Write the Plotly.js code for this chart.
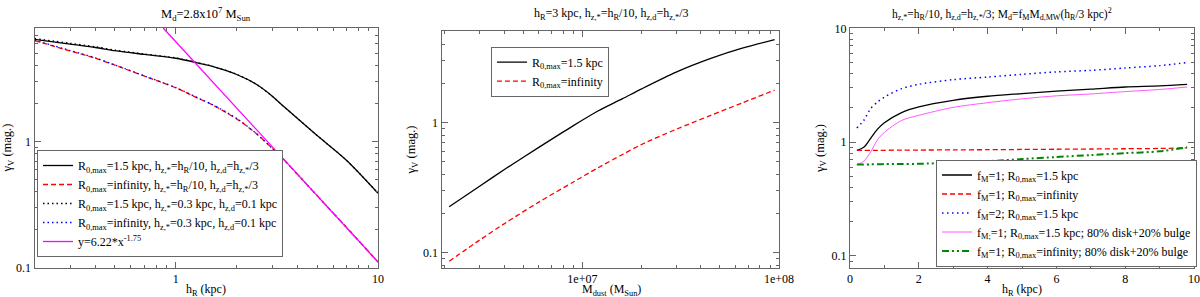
<!DOCTYPE html>
<html>
<head>
<meta charset="utf-8">
<script src="https://cdn.plot.ly/plotly-3.0.1.min.js"></script>
<style>html,body{margin:0;padding:0;background:#fff;}#chart{width:1200px;height:297px;}</style>
</head>
<body>
<div id="chart"></div>
<script>
// ---- Panel 1: gamma_V vs h_R (Md = 2.8e7 MSun) ----
var p1_hR = [0.2, 0.3, 0.4, 0.5, 0.7, 1, 1.3, 1.5, 2, 2.5, 3, 3.3, 4, 5, 7, 10];
var p1_r15_scaled = [6.5, 5.95, 5.6, 5.28, 4.93, 4.6, 4.2, 3.98, 3.42, 2.86, 2.3, 2.0, 1.53, 1.12, 0.71, 0.39];
var p1_rinf_scaled = [6.35, 5.26, 4.6, 4.05, 3.32, 2.68, 2.2, 1.98, 1.52, 1.16, 0.885, 0.765, 0.55, 0.373, 0.208, 0.111];
var p1_r15_fixed = [6.6, 6.05, 5.68, 5.34, 4.97, 4.63, 4.22, 3.99, 3.43, 2.86, 2.3, 2.0, 1.53, 1.12, 0.71, 0.39];
var p1_rinf_fixed = [6.4, 5.3, 4.63, 4.07, 3.33, 2.69, 2.21, 1.99, 1.53, 1.16, 0.885, 0.765, 0.55, 0.373, 0.208, 0.111];
var p1_fit_x = [0.866, 10];
var p1_fit_y = [8.0, 0.111];

// ---- Panel 2: gamma_V vs M_dust (h_R = 3 kpc) ----
var p2_mdust = [2.1e6, 3e6, 4.1e6, 6e6, 9e6, 1.2e7, 1.6e7, 2e7, 3e7, 4.5e7, 6.5e7, 9.5e7];
var p2_r15 = [0.226, 0.325, 0.446, 0.646, 0.95, 1.23, 1.53, 1.82, 2.45, 3.12, 3.74, 4.35];
var p2_rinf = [0.086, 0.125, 0.171, 0.245, 0.35, 0.45, 0.57, 0.68, 0.89, 1.14, 1.42, 1.78];

// ---- Panel 3: gamma_V vs h_R (Md scaled) ----
var p3_hR = [0.2, 0.4, 0.6, 0.8, 1, 1.5, 2, 3, 4, 5, 6, 7, 8, 9, 9.8];
var p3_f1_r15 = [0.845, 0.9, 1.08, 1.3, 1.48, 1.82, 2.04, 2.33, 2.53, 2.67, 2.81, 2.92, 3.05, 3.12, 3.22];
var p3_f1_rinf = [0.845, 0.845, 0.846, 0.847, 0.848, 0.85, 0.852, 0.855, 0.858, 0.862, 0.866, 0.87, 0.875, 0.88, 0.89];
var p3_f2_r15 = [1.33, 1.55, 1.97, 2.25, 2.49, 2.95, 3.22, 3.54, 3.73, 3.94, 4.14, 4.27, 4.48, 4.7, 5.0];
var p3_f1_r15_bulge = [0.63, 0.68, 0.82, 1.05, 1.22, 1.55, 1.72, 2.02, 2.22, 2.4, 2.55, 2.65, 2.78, 2.9, 3.05];
var p3_f1_rinf_bulge = [0.636, 0.637, 0.638, 0.64, 0.641, 0.643, 0.645, 0.66, 0.68, 0.71, 0.74, 0.77, 0.8, 0.83, 0.9];

// ---- Text ----
var titles = [
  'M<sub>d</sub>=2.8x10<sup>7</sup> M<sub>Sun</sub>',
  'h<sub>R</sub>=3 kpc, h<sub>z,*</sub>=h<sub>R</sub>/10, h<sub>z,d</sub>=h<sub>z,*</sub>/3',
  'h<sub>z,*</sub>=h<sub>R</sub>/10, h<sub>z,d</sub>=h<sub>z,*</sub>/3; M<sub>d</sub>=f<sub>M</sub>M<sub>d,MW</sub>(h<sub>R</sub>/3 kpc)<sup>2</sup>'
];
var xTitles = ['h<sub>R</sub> (kpc)', 'M<sub>dust</sub> (M<sub>Sun</sub>)', 'h<sub>R</sub> (kpc)'];
var yTitle = '\u03b3<sub>V</sub> (mag.)';
var p1_names = [
  'R<sub>0,max</sub>=1.5 kpc, h<sub>z,*</sub>=h<sub>R</sub>/10, h<sub>z,d</sub>=h<sub>z,*</sub>/3',
  'R<sub>0,max</sub>=infinity, h<sub>z,*</sub>=h<sub>R</sub>/10, h<sub>z,d</sub>=h<sub>z,*</sub>/3',
  'R<sub>0,max</sub>=1.5 kpc, h<sub>z,*</sub>=0.3 kpc, h<sub>z,d</sub>=0.1 kpc',
  'R<sub>0,max</sub>=infinity, h<sub>z,*</sub>=0.3 kpc, h<sub>z,d</sub>=0.1 kpc',
  'y=6.22*x<sup>-1.75</sup>'
];
var p2_names = ['R<sub>0,max</sub>=1.5 kpc', 'R<sub>0,max</sub>=infinity'];
var p3_names = [
  'f<sub>M</sub>=1; R<sub>0,max</sub>=1.5 kpc',
  'f<sub>M</sub>=1; R<sub>0,max</sub>=infinity',
  'f<sub>M</sub>=2; R<sub>0,max</sub>=1.5 kpc',
  'f<sub>M;</sub>=1; R<sub>0,max</sub>=1.5 kpc; 80% disk+20% bulge',
  'f<sub>M</sub>=1; R<sub>0,max</sub>=infinity; 80% disk+20% bulge'
];

var FONT = 'Liberation Serif, Times New Roman, serif';
var FRAME = '#666666';

function tr(x, y, name, color, width, dash, xa, ya, leg) {
  return {x: x, y: y, name: name, type: 'scatter', mode: 'lines',
    line: {color: color, width: width, dash: dash, shape: 'spline', smoothing: 0.8},
    xaxis: xa, yaxis: ya, legend: leg};
}

var data = [
  tr(p1_hR, p1_r15_scaled, p1_names[0], '#000000', 1.3, 'solid', 'x', 'y', 'legend'),
  tr(p1_hR, p1_rinf_scaled, p1_names[1], '#ff0000', 1.3, '5px,3px', 'x', 'y', 'legend'),
  tr(p1_hR, p1_r15_fixed, p1_names[2], '#000000', 1.3, '1.5px,3px', 'x', 'y', 'legend'),
  tr(p1_hR, p1_rinf_fixed, p1_names[3], '#0000ff', 1.3, '1.5px,3px', 'x', 'y', 'legend'),
  tr(p1_fit_x, p1_fit_y, p1_names[4], '#ff00ff', 1.3, 'solid', 'x', 'y', 'legend'),
  tr(p2_mdust, p2_r15, p2_names[0], '#000000', 1.3, 'solid', 'x2', 'y2', 'legend2'),
  tr(p2_mdust, p2_rinf, p2_names[1], '#ff0000', 1.3, '5px,3px', 'x2', 'y2', 'legend2'),
  tr(p3_hR, p3_f1_r15, p3_names[0], '#000000', 1.3, 'solid', 'x3', 'y3', 'legend3'),
  tr(p3_hR, p3_f1_rinf, p3_names[1], '#ff0000', 1.3, '5px,3px', 'x3', 'y3', 'legend3'),
  tr(p3_hR, p3_f2_r15, p3_names[2], '#0000ff', 1.5, '1.5px,3.5px', 'x3', 'y3', 'legend3'),
  tr(p3_hR, p3_f1_r15_bulge, p3_names[3], '#ff44ff', 0.9, 'solid', 'x3', 'y3', 'legend3'),
  tr(p3_hR, p3_f1_rinf_bulge, p3_names[4], '#008800', 2, '7px,3px,2px,3px,2px,3px', 'x3', 'y3', 'legend3')
];

function logMinors(lo, hi) {
  var out = [];
  for (var e = -3; e <= 9; e++) {
    for (var m = 2; m <= 9; m++) {
      var v = m * Math.pow(10, e);
      if (v > lo * 1.0001 && v < hi * 0.9999) out.push(v);
    }
  }
  return out;
}

function axis(o) {
  var base = {
    showline: true, linecolor: FRAME, linewidth: 1, mirror: 'allticks',
    ticks: 'inside', ticklen: 6, tickcolor: FRAME, tickwidth: 1,
    showgrid: false, zeroline: false, fixedrange: true,
    tickfont: {family: FONT, size: 12, color: '#000'}
  };
  for (var k in o) base[k] = o[k];
  return base;
}
function minor(vals) {
  return {tickmode: 'array', tickvals: vals, ticks: 'inside', ticklen: 3, tickcolor: FRAME, showgrid: false};
}
function ttl(text, standoff) {
  return {text: text, font: {family: FONT, size: 12.5, color: '#000'}, standoff: standoff};
}
function note(text, xc, yc, size, anchor, shift) {
  return {text: text, xref: 'paper', yref: 'paper', x: xc / 1200, y: 1 - yc / 297,
    xanchor: 'center', yanchor: anchor || 'middle', showarrow: false, yshift: shift || 0,
    borderpad: 0, font: {family: FONT, size: size, color: '#000'}};
}

var layout = {
  width: 1200, height: 297,
  margin: {l: 0, r: 0, t: 0, b: 0},
  paper_bgcolor: '#fff', plot_bgcolor: '#fff',
  font: {family: FONT, size: 12, color: '#000'},
  xaxis: axis({type: 'log', domain: [34.5/1200, 378/1200], range: [Math.log10(0.2), 1],
    tickmode: 'array', tickvals: [1, 10], ticktext: ['1', '10'],
    minor: minor(logMinors(0.2, 10)), anchor: 'y'}),
  yaxis: axis({type: 'log', domain: [0.0987, 0.9074], range: [-1, 0.907],
    tickmode: 'array', tickvals: [0.1, 1], ticktext: ['0.1', '1'],
    minor: minor(logMinors(0.1, 8.1)), title: ttl(yTitle, 4), anchor: 'x'}),
  xaxis2: axis({type: 'log', domain: [441.5/1200, 779/1200], range: [Math.log10(1.92e6), 8],
    tickmode: 'array', tickvals: [1e7, 1e8], ticktext: ['1e+07', '1e+08'],
    minor: minor(logMinors(1.92e6, 1e8)), anchor: 'y2'}),
  yaxis2: axis({type: 'log', domain: [0.0987, 0.8946], range: [-1.115, 0.703],
    tickmode: 'array', tickvals: [0.1, 1], ticktext: ['0.1', '1'],
    minor: minor(logMinors(0.076, 5.1)), title: ttl(yTitle, 4), anchor: 'x2'}),
  xaxis3: axis({type: 'linear', domain: [850/1200, 1194/1200], range: [0, 10],
    tickmode: 'array', tickvals: [0, 2, 4, 6, 8, 10],
    minor: minor([1, 3, 5, 7, 9]), anchor: 'y3'}),
  yaxis3: axis({type: 'log', domain: [0.0987, 0.9047], range: [-1.103, 1],
    tickmode: 'array', tickvals: [0.1, 1, 10], ticktext: ['0.1', '1', '10'],
    minor: minor(logMinors(0.079, 10)), title: ttl(yTitle, 4), anchor: 'x3'}),
  showlegend: true,
  legend: {x: 37/1200, xanchor: 'left', y: 1 - 257/297, yanchor: 'bottom',
    bgcolor: '#fff', bordercolor: FRAME, borderwidth: 1,
    font: {family: FONT, size: 12}, tracegroupgap: 0, itemwidth: 30},
  legend2: {x: 491/1200, xanchor: 'left', y: 1 - 46.7/297, yanchor: 'top',
    bgcolor: '#fff', bordercolor: FRAME, borderwidth: 1,
    font: {family: FONT, size: 12}, itemwidth: 30},
  legend3: {x: 936/1200, xanchor: 'left', y: 1 - 266.5/297, yanchor: 'bottom',
    bgcolor: '#fff', bordercolor: FRAME, borderwidth: 1,
    font: {family: FONT, size: 12}, itemwidth: 30},
  annotations: [
    note(titles[0], 206, 14, 12.5),
    note(titles[1], 611, 14, 12),
    note(titles[2], 1002, 14, 11.5),
    note(xTitles[0], 206, 297, 12, 'bottom', -2),
    note(xTitles[1], 611, 297, 12, 'bottom', -2),
    note(xTitles[2], 1022, 297, 12, 'bottom', -2)
  ]
};

Plotly.newPlot('chart', data, layout, {staticPlot: true, displayModeBar: false});
</script>
</body>
</html>
